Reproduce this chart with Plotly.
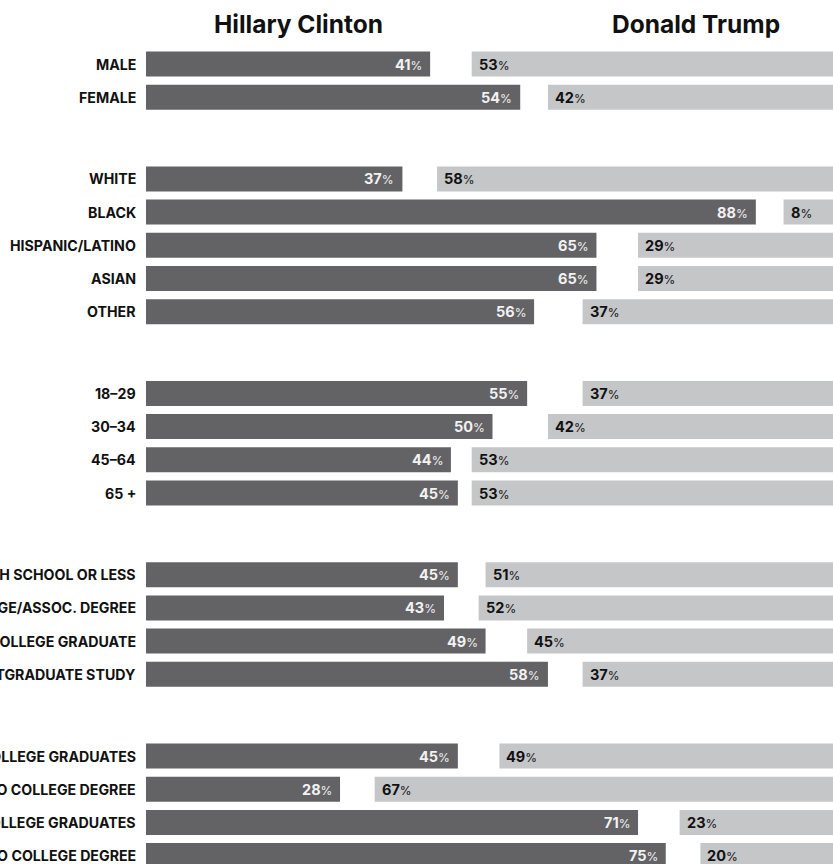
import plotly.graph_objects as go

# ---- data ----
groups = [
    ["MALE", "FEMALE"],
    ["WHITE", "BLACK", "HISPANIC/LATINO", "ASIAN", "OTHER"],
    ["18–29", "30–34", "45–64", "65 +"],
    ["HIGH SCHOOL OR LESS", "SOME COLLEGE/ASSOC. DEGREE", "COLLEGE GRADUATE", "POSTGRADUATE STUDY"],
    ["WHITE COLLEGE GRADUATES", "WHITE NO COLLEGE DEGREE", "NONWHITE COLLEGE GRADUATES", "NONWHITE NO COLLEGE DEGREE"],
]
clinton = [41, 54, 37, 88, 65, 65, 56, 55, 50, 44, 45, 45, 43, 49, 58, 45, 28, 71, 75]
trump = [53, 42, 58, 8, 29, 29, 37, 37, 42, 53, 53, 51, 52, 45, 37, 49, 67, 23, 20]
candidates = ["Hillary Clinton", "Donald Trump"]

# ---- layout helpers ----
W, H = 833, 864
X0_PX = 146.0
PX_PER_UNIT = 6.93
ROW_PITCH = 33.2
GROUP_GAP = 48.5
FIRST_ROW = 64.0
BAR_H = 25

labels, ypos = [], []
r = 0
for g, items in enumerate(groups):
    for it in items:
        labels.append(it)
        ypos.append(FIRST_ROW + r * ROW_PITCH + g * GROUP_GAP)
        r += 1

DARK = "#636366"
LIGHT = "#c5c6c8"
FONT = "Inter, Liberation Sans, Arial, sans-serif"

fig = go.Figure()
fig.add_trace(go.Bar(
    y=ypos, x=clinton, base=0, orientation="h", width=BAR_H,
    marker=dict(color=DARK, line=dict(width=0)), hoverinfo="skip", showlegend=False,
))
fig.add_trace(go.Bar(
    y=ypos, x=trump, base=[100 - t for t in trump], orientation="h", width=BAR_H,
    marker=dict(color=LIGHT, line=dict(width=0)), hoverinfo="skip", showlegend=False,
))

ann = []
for lab, y, c, t in zip(labels, ypos, clinton, trump):
    ann.append(dict(x=0, y=y, xref="x", yref="y", text=f"<b>{lab}</b>", showarrow=False,
                    xanchor="right", yanchor="middle", xshift=-8,
                    font=dict(family=FONT, size=14.2, color="#111111")))
    ann.append(dict(x=c, y=y, xref="x", yref="y",
                    text=f"<b>{c}</b><span style='font-size:12px'>%</span>", showarrow=False,
                    xanchor="right", yanchor="middle", xshift=-6,
                    font=dict(family=FONT, size=14.5, color="#f2f2f2")))
    ann.append(dict(x=100 - t, y=y, xref="x", yref="y",
                    text=f"<b>{t}</b><span style='font-size:12px'>%</span>", showarrow=False,
                    xanchor="left", yanchor="middle", xshift=5,
                    font=dict(family=FONT, size=14.5, color="#111111")))

for name, xp in zip(candidates, [298.5 / W, 695.5 / W]):
    ann.append(dict(x=xp, y=1 - 24 / H, xref="paper", yref="paper", text=f"<b>{name}</b>",
                    showarrow=False, xanchor="center", yanchor="middle",
                    font=dict(family=FONT, size=24.5, color="#111111")))

fig.update_layout(
    width=W, height=H,
    margin=dict(l=0, r=0, t=0, b=0),
    paper_bgcolor="white", plot_bgcolor="white",
    barmode="overlay",
    xaxis=dict(range=[-X0_PX / PX_PER_UNIT, (W - X0_PX) / PX_PER_UNIT], visible=False, fixedrange=True),
    yaxis=dict(range=[H, 0], visible=False, fixedrange=True),
    annotations=ann,
)
fig.write_html("out.html", config=dict(displayModeBar=False),
               post_script="document.body.style.margin='0px';")
